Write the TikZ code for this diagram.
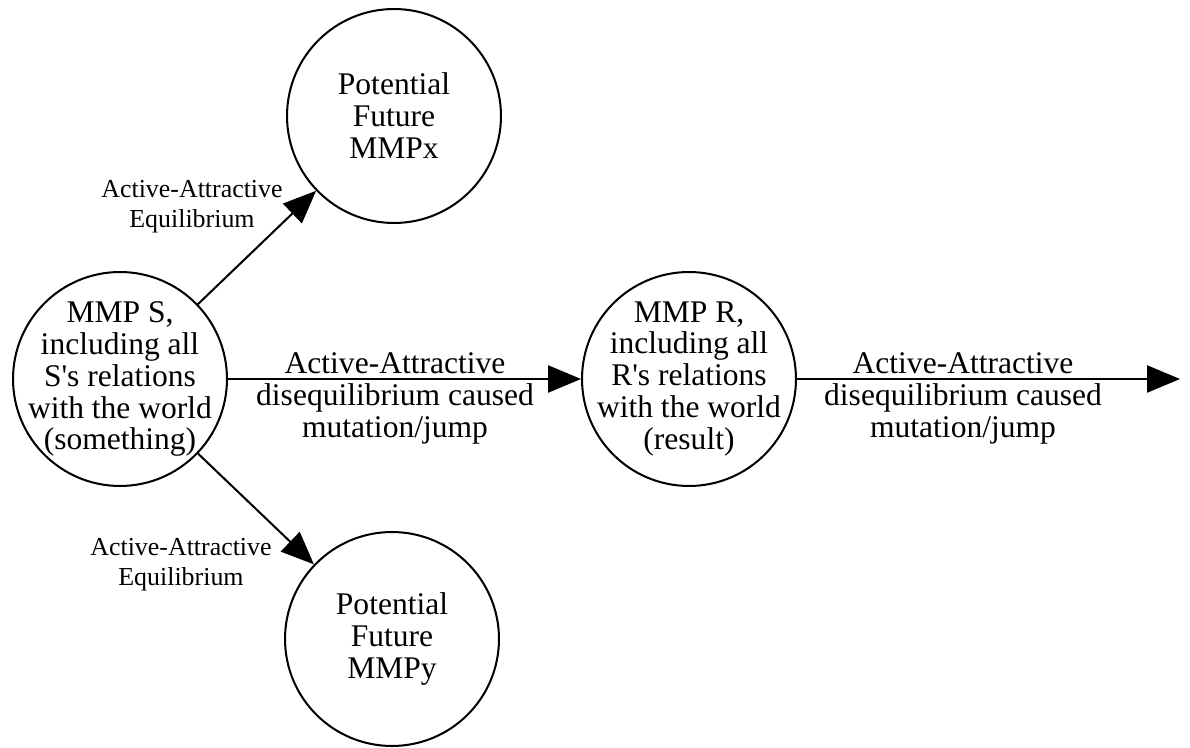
\documentclass[tikz,border=0pt]{standalone}
\usepackage{fontspec}
\setmainfont{Liberation Serif}
\usetikzlibrary{arrows.meta}
\tikzset{>={Triangle[length=14.6pt,width=12pt]}}
\tikzstyle{mmp}   = [circle,
                     draw,
                     line width=0.9pt,
                     minimum size=95pt,
                     inner sep=-6pt,
                     align=center,
                     font=\fontsize{14}{14.2}\selectfont]
\tikzstyle{arrow} = [->,
                     line width=0.9pt]
\tikzstyle{biglabel}   = [anchor=north, inner sep=0pt, align=center,
                          font=\fontsize{14}{14.2}\selectfont]
\tikzstyle{smalllabel} = [anchor=north, inner sep=0pt, align=center,
                          font=\fontsize{11.5}{13.3}\selectfont]

\begin{document}
\begin{tikzpicture}[x=0.444pt, y=-0.444pt]
  \useasboundingbox (0,0) rectangle (1190,748);

  % Nodes
  \node[mmp] (S) at (120,379) {MMP S,\\including all\\S\textquotesingle s relations\\with the world\\(something)};
  \node[mmp] (X) at (394,116) {Potential\\Future\\MMPx};
  \node[mmp] (Y) at (392,639) {Potential\\Future\\MMPy};
  \node[mmp] (R) at (689,379) {MMP R,\\including all\\R\textquotesingle s relations\\with the world\\(result)};
  \coordinate (out) at (1180,379);

  % Edges
  \draw[arrow] (S) -- (X);
  \draw[arrow] (S) -- (Y);
  \draw[arrow] (S) -- (R);
  \draw[arrow] (R) -- (out);

  % Labels
  \node[smalllabel] (lsx) at (192,179.5) {Active-Attractive\\Equilibrium};
  \node[smalllabel] (lsy) at (181,537.5) {Active-Attractive\\Equilibrium};
  \node[biglabel]   (lsr) at (395,352.5) {Active-Attractive\\disequilibrium caused\\mutation/jump};
  \node[biglabel]   (lro) at (963,352.5) {Active-Attractive\\disequilibrium caused\\mutation/jump};

\end{tikzpicture}
\end{document}
